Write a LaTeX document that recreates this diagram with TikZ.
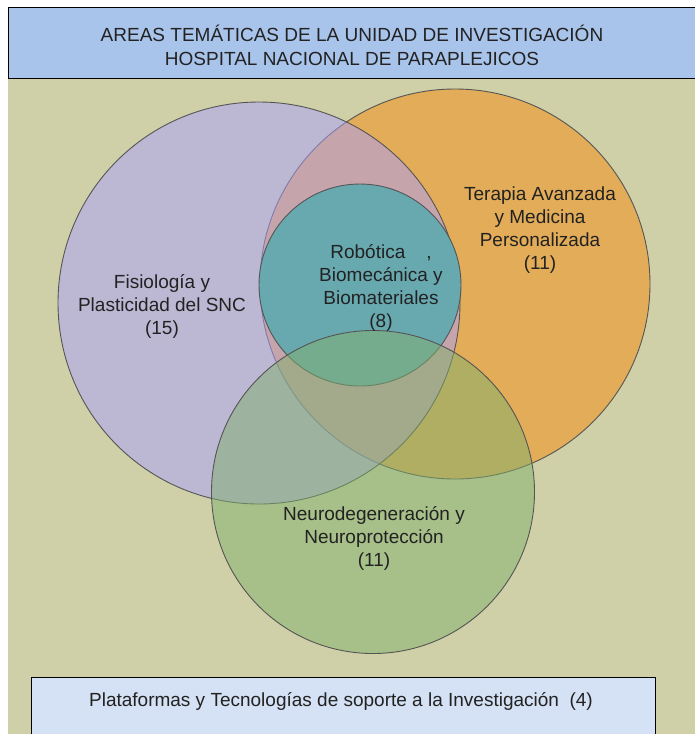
\documentclass[tikz,border=0pt]{standalone}
\usepackage{fontspec}
\setmainfont{Liberation Sans}
\usepackage{tikz}
\usetikzlibrary{positioning}

\definecolor{bgolive}{RGB}{208,208,168}
\definecolor{headblue}{RGB}{169,196,235}
\definecolor{footblue}{RGB}{213,225,244}
\definecolor{vennorange}{RGB}{226,172,88}
\definecolor{vennpurple}{RGB}{170,160,255}
\definecolor{vennteal}{RGB}{104,169,176}
\definecolor{venngreen}{RGB}{128,176,108}
\definecolor{vennline}{RGB}{85,85,85}
\definecolor{txtgray}{RGB}{34,34,34}

\tikzset{
  venn/.style={draw=vennline, line width=0.9pt},
  lbl/.style={font=\fontsize{19}{23}\selectfont, text=txtgray, align=center, inner sep=0pt},
}

\begin{document}
\begin{tikzpicture}[x=1pt, y=-1pt]
		%%%%% START %%%%%
		\useasboundingbox (0, 0) rectangle (695, 734);
		
		\fill[bgolive] (8, 78) rectangle (695, 734);
		\draw[fill=headblue, line width=1pt] (8, 7) rectangle (700, 78);
		
		% circles
		\draw[venn, fill=vennorange] (455, 284) circle (195);
		\draw[venn, fill=vennpurple, fill opacity=0.5] (259, 303) circle (201);
		\draw[venn, fill=vennteal] (360, 285) circle (101);
		\draw[venn, fill=venngreen, fill opacity=0.5] (373, 492) circle (161.5);
		
		\draw[fill=footblue, line width=1pt] (31, 677) rectangle (655, 740);
		
		% labels
		\node[lbl, font=\fontsize{19}{24}\selectfont] (title) at (352, 45)
			{AREAS TEMÁTICAS DE LA UNIDAD DE INVESTIGACIÓN\\HOSPITAL NACIONAL DE PARAPLEJICOS};
		\node[lbl] (fisio) at (162, 306) {Fisiología y\\Plasticidad del SNC\\(15)};
		\node[lbl] (terapia) at (540, 230) {Terapia Avanzada\\y Medicina\\Personalizada\\(11)};
		\node[lbl] (robot) at (381, 288) {Robótica\hspace{21pt},\\Biomecánica y\\ Biomateriales\\(8)};
		\node[lbl] (neuro) at (374, 538) {Neurodegeneración y\\Neuroprotección\\(11)};
		\node[lbl] (plataf) at (341, 701) {Plataformas y Tecnologías de soporte a la Investigación\ \ (4)};
		
		%%%%% END %%%%%
	\end{tikzpicture}
\end{document}
